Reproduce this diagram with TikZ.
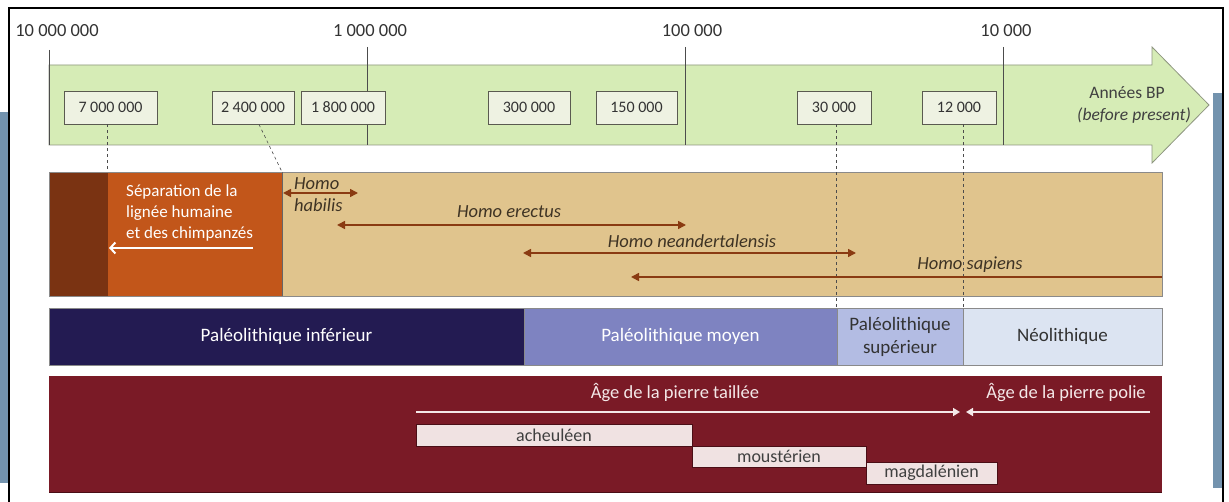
\documentclass[tikz,border=0pt]{standalone}
\usepackage{fontspec}
\setmainfont{Carlito}
\usetikzlibrary{arrows.meta}
\definecolor{strip}{HTML}{7393AE}
\definecolor{agreen}{HTML}{D6ECB6}
\definecolor{aborder}{HTML}{8E9680}
\definecolor{boxfill}{HTML}{EEF2E2}
\definecolor{boxline}{HTML}{5A5A50}
\definecolor{dbrown}{HTML}{7A3312}
\definecolor{orng}{HTML}{C2561A}
\definecolor{tan}{HTML}{E0C48D}
\definecolor{harrow}{HTML}{8A3B12}
\definecolor{htext}{HTML}{3E3324}
\definecolor{navy}{HTML}{231B52}
\definecolor{pmoy}{HTML}{7E83C1}
\definecolor{psup}{HTML}{B3BCE3}
\definecolor{pneo}{HTML}{DCE4F2}
\definecolor{cellline}{HTML}{8A8A8A}
\definecolor{redband}{HTML}{7A1A26}
\definecolor{cult}{HTML}{F0E2E2}
\definecolor{cultsh}{HTML}{4A0E16}
\definecolor{agetext}{HTML}{F4E8E8}
\begin{document}
\begin{tikzpicture}[x=1pt,y=-1pt,
  toplabel/.style={font=\fontsize{18.5}{20}\selectfont, text=black!80},
  datebox/.style={draw=boxline, fill=boxfill, line width=0.8pt, font=\fontsize{16}{18}\selectfont, text=black!80, minimum height=33pt, inner sep=0pt},
  tick/.style={draw=black!70, line width=0.8pt},
  dashline/.style={draw=black!70, dashed, line width=0.6pt},
  harr/.style={draw=harrow, line width=1.6pt},
  htxt/.style={font=\fontsize{18.5}{21}\selectfont\itshape, text=htext},
  cell/.style={draw=cellline, line width=0.6pt, inner sep=0pt, minimum height=57pt, font=\fontsize{19}{23}\selectfont, align=center},
  cultbox/.style={draw=cultsh, line width=0.8pt, fill=cult, inner sep=0pt, font=\fontsize{18}{20}\selectfont, text=black!75},
  agearr/.style={draw=agetext, line width=1.6pt},
  agetxt/.style={font=\fontsize{18.5}{21}\selectfont, text=agetext}
]
\path[use as bounding box] (0,0) rectangle (1229,502);
\fill[white] (0,0) rectangle (1229,502);
% side strips and frame
\fill[strip] (0,112) rectangle (8,483);
\fill[strip] (1213,93) rectangle (1222,488);
\draw[black, line width=1.2pt] (9,502) -- (9,8) -- (1223,8) -- (1223,502);

% green timeline arrow
\draw[aborder, fill=agreen, line width=0.8pt] (49,65) -- (1152,65) -- (1152,47) -- (1209,105) -- (1152,163) -- (1152,145) -- (49,145) -- cycle;
\draw[tick] (49,50) -- (49,145);
\draw[tick] (367,47) -- (367,145);
\draw[tick] (685,47) -- (685,145);
\draw[tick] (1003,47) -- (1003,145);
\node[toplabel] (t1) at (57,31) {10 000 000};
\node[toplabel] (t2) at (370,31) {1 000 000};
\node[toplabel] (t3) at (692,31) {100 000};
\node[toplabel] (t4) at (1006,31) {10 000};
\node[font=\fontsize{17.5}{22}\selectfont, align=center, text=black!75] (bp) at (1134,105) {\hspace*{-14pt}Années BP\\\textit{(before present)}};

% date boxes
\node[datebox, minimum width=93pt] (b7) at (110.5,107.5) {7 000 000};
\node[datebox, minimum width=82pt] (b24) at (253,107.5) {2 400 000};
\node[datebox, minimum width=84pt] (b18) at (343,107.5) {1 800 000};
\node[datebox, minimum width=82pt] (b300) at (529,107.5) {300 000};
\node[datebox, minimum width=81pt] (b150) at (636.5,107.5) {150 000};
\node[datebox, minimum width=74pt] (b30) at (834,107.5) {30 000};
\node[datebox, minimum width=74pt] (b12) at (959,107.5) {12 000};

% brown band
\fill[dbrown] (49,172) rectangle (108,296);
\fill[orng] (108,172) rectangle (282,296);
\fill[tan] (282,172) rectangle (1162,296);
\draw[cellline, line width=0.8pt] (49,172) rectangle (1162,296);
\draw[black!60, line width=0.6pt] (282,172) -- (282,296);

% dashed connectors
\coordinate (d7) at (107,172);
\coordinate (d24) at (282,172);
\coordinate (d30) at (836,308);
\coordinate (d12) at (963,308);
\draw[dashline] (b7.south -| d7) -- (d7);
\draw[dashline] ([xshift=6pt]b24.south) -- (d24);
\draw[dashline] (b30.south -| d30) -- (d30);
\draw[dashline] (b12.south -| d12) -- (d12);

% separation text and arrow
\node[anchor=north west, align=left, text=white, font=\fontsize{17}{21}\selectfont, inner sep=0pt] (sep) at (126,184) {Séparation de la\\lignée humaine\\et des chimpanzés};
\coordinate (sepA) at (253,248);
\coordinate (sepB) at (109,248);
\draw[white, line width=2pt, -{Straight Barb[length=5pt,width=11pt,line width=2pt]}] (sepA) -- (sepB);

% Homo arrows
\coordinate (hh1) at (283,193); \coordinate (hh2) at (358,193);
\draw[harr, {Triangle[length=8pt,width=8pt]}-{Triangle[length=8pt,width=8pt]}] (hh1) -- (hh2);
\node[htxt, anchor=west, align=left, inner sep=0pt, font=\fontsize{18.5}{22}\selectfont\itshape] (hhab) at (294,195) {Homo\\habilis};
\coordinate (he1) at (337,225); \coordinate (he2) at (686,225);
\draw[harr, {Triangle[length=8pt,width=8pt]}-{Triangle[length=8pt,width=8pt]}] (he1) -- (he2);
\node[htxt] (hert) at (509,212) {Homo erectus};
\coordinate (hn1) at (523,253); \coordinate (hn2) at (856,253);
\draw[harr, {Triangle[length=8pt,width=8pt]}-{Triangle[length=8pt,width=8pt]}] (hn1) -- (hn2);
\node[htxt] (hnea) at (692,241) {Homo neandertalensis};
\coordinate (hs1) at (1162,277); \coordinate (hs2) at (631,277);
\draw[harr, -{Triangle[length=8pt,width=8pt]}] (hs1) -- (hs2);
\node[htxt] (hsap) at (970,265) {Homo sapiens};

% paleolithic row
\node[cell, fill=navy, text=white, minimum width=475pt] (pinf) at (286.5,336.5) {Paléolithique inférieur};
\node[cell, fill=pmoy, text=white, minimum width=313pt] (pmoy) at (680.5,336.5) {Paléolithique moyen};
\node[cell, fill=psup, text=black!80, minimum width=126pt] (psup) at (900,336.5) {Paléolithique\\supérieur};
\node[cell, fill=pneo, text=black!80, minimum width=199pt] (pneo) at (1062.5,336.5) {Néolithique};

% red band
\fill[redband] (49,376) rectangle (1162,492);
\draw[cultsh, line width=0.8pt] (49,492) -- (1162,492);
\node[agetxt] (ataille) at (675,393) {Âge de la pierre taillée};
\node[agetxt] (apolie) at (1066,393) {Âge de la pierre polie};
\coordinate (ta1) at (416,412); \coordinate (ta2) at (960,412);
\coordinate (po1) at (1150,412); \coordinate (po2) at (966,412);
\draw[agearr, -{Triangle[length=7pt,width=8pt]}] (ta1) -- (ta2);
\draw[agearr, -{Triangle[length=7pt,width=8pt]}] (po1) -- (po2);

% culture boxes
\node[cultbox, minimum width=276pt, minimum height=22pt] (ach) at (554,435) {acheuléen};
\node[cultbox, minimum width=174pt, minimum height=21pt] (mou) at (779,456.5) {moustérien};
\node[cultbox, minimum width=131pt, minimum height=22pt] (mag) at (931.5,473) {magdalénien};
\end{tikzpicture}
\end{document}
